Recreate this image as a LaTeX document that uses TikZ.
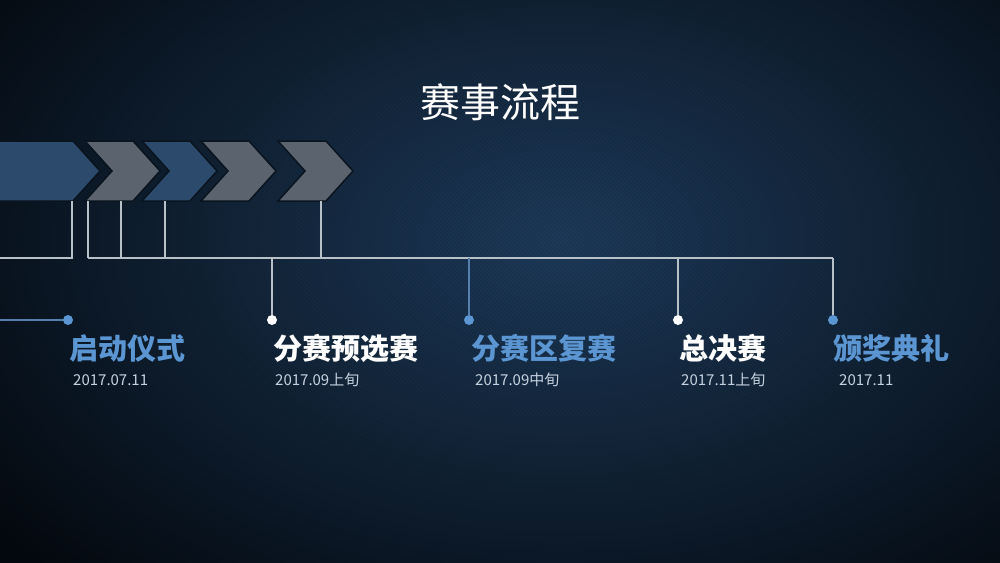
\documentclass[tikz,border=0pt]{standalone}
\usepackage{fontspec}
\setmainfont{Liberation Sans}
\newfontfamily\cjk{Noto Sans CJK SC}
\usetikzlibrary{positioning}

\definecolor{bgdark}{HTML}{04090F}
\definecolor{bglight}{HTML}{1D3A5A}
\definecolor{stageblue}{HTML}{5B96D2}
\definecolor{chevblue}{HTML}{2C4A6B}
\definecolor{chevgray}{HTML}{5A636E}
\definecolor{linegray}{HTML}{B8C0C8}
\definecolor{lineblue}{HTML}{5580AE}
\definecolor{datecol}{HTML}{C6D2E0}
\definecolor{chevedge}{HTML}{0A141F}

% one chevron of the header band: left x, fill colour
\newcommand{\chevron}[2]{%
  \filldraw[chev, fill=#2] (#1,141) -- ++(48,0) -- ++(27,30) -- ++(-27,30)
    -- ++(-48,0) -- ++(27,-30) -- cycle;}

\begin{document}
\begin{tikzpicture}[x=1pt, y=-1pt,
    chev/.style={draw=chevedge, line width=1.5pt, line join=miter},
    tline/.style={draw=linegray, line width=1.3pt},
    bline/.style={draw=lineblue, line width=1.3pt},
    wdot/.style={circle, fill=white, minimum size=10pt, inner sep=0pt},
    bdot/.style={circle, fill=stageblue, minimum size=10pt, inner sep=0pt},
    stage/.style={anchor=west, inner sep=0pt,
                  font=\cjk\bfseries\fontsize{29}{29}\selectfont},
    date/.style={anchor=west, inner sep=0pt, text=datecol,
                 font=\cjk\fontsize{15}{15}\selectfont}
]
    \useasboundingbox (0,0) rectangle (1000,562);

    % background
    \begin{scope}
        \clip (0,0) rectangle (1000,562);
        \fill[bgdark] (-2,-2) rectangle (1002,564);
        \shade[inner color=bglight, outer color=bgdark]
            (560,240) ellipse [x radius=720, y radius=470];
        \foreach \k in {-564,-560,...,1000}
            \draw[black, opacity=0.10, line width=1pt] (\k,0) -- ++(562,562);
    \end{scope}

    % title
    \node[text=white, font=\cjk\fontsize{40}{40}\selectfont] (title) at (500,102) {赛事流程};

    % chevron band
    \filldraw[chev, fill=chevblue] (-5,141) -- (73,141) -- (100,171) -- (73,201)
        -- (-5,201) -- cycle;
    \chevron{85}{chevgray}
    \chevron{142}{chevblue}
    \chevron{201}{chevgray}
    \chevron{278}{chevgray}

    % tree of lines under the band
    \coordinate (a0) at (72,201);
    \coordinate (a0b) at (72,258);
    \coordinate (a0e) at (0,258);
    \draw[tline] (a0) -- (a0b) -- (a0e);
    \foreach \x [count=\i] in {88,121,165,321} {
        \coordinate (top\i) at (\x,201);
        \coordinate (bot\i) at (\x,258);
        \draw[tline] (top\i) -- (bot\i);
    }
    \coordinate (rail) at (833,258);
    \draw[tline] (bot1) -- (rail);

    % stage dots
    \node[bdot] (d1) at (68,320) {};
    \node[wdot] (d2) at (272,320) {};
    \node[bdot] (d3) at (469,320) {};
    \node[wdot] (d4) at (678,320) {};
    \node[bdot] (d5) at (833,320) {};

    \coordinate (e1) at (0,320);
    \coordinate (j2) at (272,258);
    \coordinate (j3) at (469,258);
    \coordinate (j4) at (678,258);
    \draw[bline] (e1) -- (d1);
    \draw[tline] (j2) -- (d2);
    \draw[bline] (j3) -- (d3);
    \draw[tline] (j4) -- (d4);
    \draw[tline] (rail) -- (d5);

    % stage names and dates
    \node[stage, text=stageblue] (n1) at (69,348) {启动仪式};
    \node[date] (t1) at (73,380) {2017.07.11};
    \node[stage, text=white] (n2) at (273,348) {分赛预选赛};
    \node[date] (t2) at (275,380) {2017.09上旬};
    \node[stage, text=stageblue] (n3) at (471,348) {分赛区复赛};
    \node[date] (t3) at (475,380) {2017.09中旬};
    \node[stage, text=white] (n4) at (679,348) {总决赛};
    \node[date] (t4) at (681,380) {2017.11上旬};
    \node[stage, text=stageblue] (n5) at (833,348) {颁奖典礼};
    \node[date] (t5) at (839,380) {2017.11};
\end{tikzpicture}
\end{document}
